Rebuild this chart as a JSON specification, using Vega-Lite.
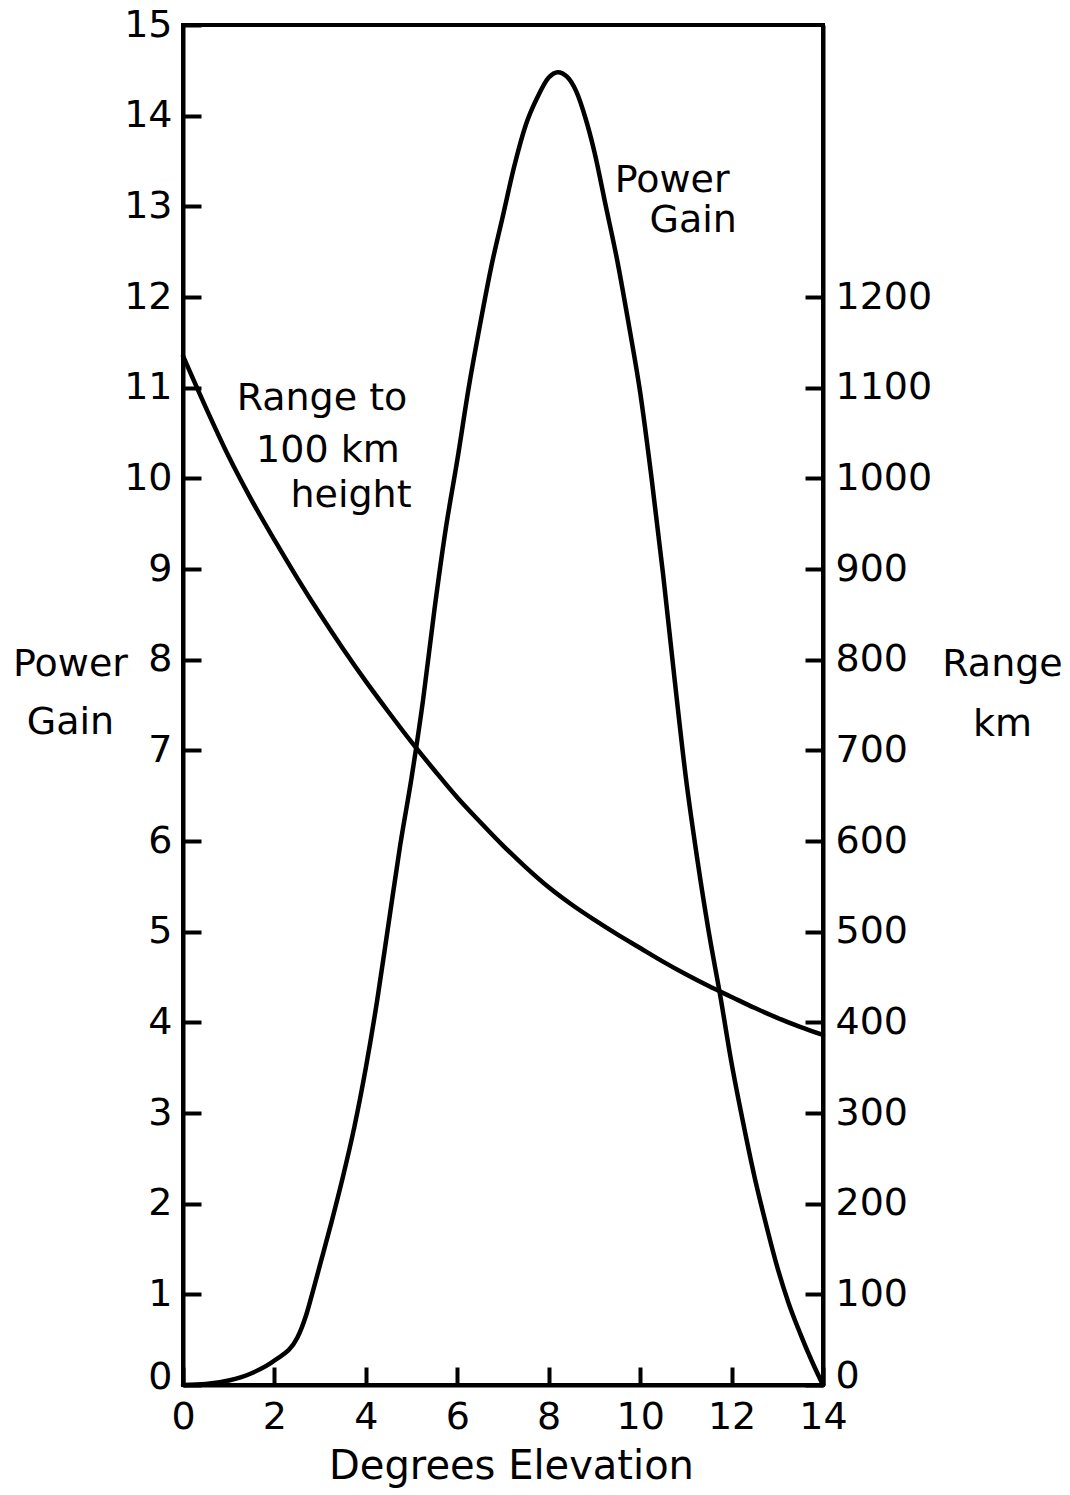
{
  "$schema": "https://vega.github.io/schema/vega-lite/v6.json",
  "width": 640,
  "height": 1360,
  "autosize": "none",
  "padding": {"left": 183, "top": 25, "right": 247, "bottom": 110},
  "background": "white",
  "config": {
    "view": {"stroke": "black", "strokeWidth": 4},
    "font": "DejaVu Sans",
    "axis": {
      "grid": false,
      "domainColor": "black",
      "domainWidth": 4,
      "tickColor": "black",
      "tickWidth": 4,
      "tickSize": -18,
      "labelFont": "DejaVu Sans",
      "labelFontSize": 38,
      "labelColor": "black",
      "labelFlush": false,
      "labelOverlap": false,
      "labelBound": false,
      "titleFont": "DejaVu Sans",
      "titleFontSize": 38,
      "titleFontWeight": "normal",
      "titleColor": "black"
    }
  },
  "datasets": {
    "gain": [
      {"deg": 0, "gain": 0},
      {"deg": 0.5, "gain": 0.01},
      {"deg": 1.0, "gain": 0.05},
      {"deg": 1.5, "gain": 0.13},
      {"deg": 2.0, "gain": 0.27},
      {"deg": 2.5, "gain": 0.52},
      {"deg": 2.7, "gain": 0.78},
      {"deg": 2.85, "gain": 1.05},
      {"deg": 3.0, "gain": 1.33},
      {"deg": 3.25, "gain": 1.8},
      {"deg": 3.5, "gain": 2.3},
      {"deg": 3.75, "gain": 2.85},
      {"deg": 4.0, "gain": 3.5},
      {"deg": 4.25, "gain": 4.25},
      {"deg": 4.5, "gain": 5.1},
      {"deg": 4.75, "gain": 5.95},
      {"deg": 5.0, "gain": 6.7},
      {"deg": 5.25, "gain": 7.55},
      {"deg": 5.5, "gain": 8.55},
      {"deg": 5.75, "gain": 9.45},
      {"deg": 6.0, "gain": 10.2},
      {"deg": 6.25, "gain": 11.0},
      {"deg": 6.5, "gain": 11.7},
      {"deg": 6.75, "gain": 12.35},
      {"deg": 7.0, "gain": 12.9},
      {"deg": 7.25, "gain": 13.45},
      {"deg": 7.5, "gain": 13.9},
      {"deg": 7.75, "gain": 14.2},
      {"deg": 8.0, "gain": 14.42},
      {"deg": 8.2, "gain": 14.48},
      {"deg": 8.4, "gain": 14.43},
      {"deg": 8.6, "gain": 14.27},
      {"deg": 8.8, "gain": 13.98},
      {"deg": 9.0, "gain": 13.6},
      {"deg": 9.25, "gain": 13.0},
      {"deg": 9.5, "gain": 12.4},
      {"deg": 9.75, "gain": 11.7},
      {"deg": 10.0, "gain": 10.95},
      {"deg": 10.25, "gain": 10.0},
      {"deg": 10.5, "gain": 8.95},
      {"deg": 10.75, "gain": 7.8},
      {"deg": 11.0, "gain": 6.7},
      {"deg": 11.25, "gain": 5.8},
      {"deg": 11.5, "gain": 5.0},
      {"deg": 11.75, "gain": 4.3},
      {"deg": 12.0, "gain": 3.55},
      {"deg": 12.25, "gain": 2.9},
      {"deg": 12.5, "gain": 2.3},
      {"deg": 12.75, "gain": 1.78},
      {"deg": 13.0, "gain": 1.3},
      {"deg": 13.25, "gain": 0.9},
      {"deg": 13.5, "gain": 0.57},
      {"deg": 13.75, "gain": 0.27},
      {"deg": 14.0, "gain": 0}
    ],
    "range": [
      {"deg": 0, "km": 1135},
      {"deg": 0.5, "km": 1078},
      {"deg": 1.0, "km": 1024},
      {"deg": 1.5, "km": 976},
      {"deg": 2.0, "km": 932},
      {"deg": 2.5, "km": 890},
      {"deg": 3.0, "km": 850},
      {"deg": 3.5, "km": 812},
      {"deg": 4.0, "km": 776},
      {"deg": 4.5, "km": 742},
      {"deg": 5.0, "km": 709},
      {"deg": 5.5, "km": 678},
      {"deg": 6.0, "km": 648},
      {"deg": 6.5, "km": 621},
      {"deg": 7.0, "km": 595},
      {"deg": 7.5, "km": 571},
      {"deg": 8.0, "km": 549},
      {"deg": 8.5, "km": 530},
      {"deg": 9.0, "km": 513},
      {"deg": 9.5, "km": 497},
      {"deg": 10.0, "km": 482},
      {"deg": 10.5, "km": 467},
      {"deg": 11.0, "km": 453},
      {"deg": 11.5, "km": 440},
      {"deg": 12.0, "km": 428},
      {"deg": 12.5, "km": 416},
      {"deg": 13.0, "km": 405},
      {"deg": 13.5, "km": 395},
      {"deg": 14.0, "km": 386}
    ],
    "notes": [
      {"deg": 10.7, "gain": 13.16, "text": "Power"},
      {"deg": 11.16, "gain": 12.72, "text": "Gain"},
      {"deg": 3.04, "gain": 10.75, "text": "Range to"},
      {"deg": 3.17, "gain": 10.18, "text": "100 km"},
      {"deg": 3.675, "gain": 9.68, "text": "height"}
    ]
  },
  "resolve": {"scale": {"y": "independent"}, "axis": {"y": "independent"}},
  "layer": [
    {
      "data": {"name": "gain"},
      "mark": {"type": "line", "color": "black", "strokeWidth": 4.5, "strokeJoin": "round", "strokeCap": "round", "interpolate": "monotone"},
      "encoding": {
        "x": {
          "field": "deg", "type": "quantitative",
          "scale": {"domain": [0, 14], "nice": false},
          "axis": {
            "values": [0, 2, 4, 6, 8, 10, 12, 14],
            "labelPadding": 31,
            "title": "Degrees Elevation",
            "titleFontSize": 40,
            "titleAlign": "center",
            "titleBaseline": "alphabetic",
            "titleAnchor": null,
            "titleX": 328,
            "titleY": 93
          }
        },
        "y": {
          "field": "gain", "type": "quantitative",
          "scale": {"domain": [0, 15], "nice": false},
          "axis": {
            "orient": "left",
            "values": [0, 1, 2, 3, 4, 5, 6, 7, 8, 9, 10, 11, 12, 13, 14, 15],
            "labelPadding": 29,
            "labelOffset": {"condition": {"test": "datum.value === 0", "value": -8}, "value": 0},
            "title": ["Power", "Gain"],
            "titleAngle": 0,
            "titleAlign": "center",
            "titleBaseline": "alphabetic",
            "titleAnchor": null,
            "titleLineHeight": 58,
            "titleX": -113,
            "titleY": 650
          }
        }
      }
    },
    {
      "data": {"name": "range"},
      "mark": {"type": "line", "color": "black", "strokeWidth": 4.5, "strokeJoin": "round", "strokeCap": "round", "interpolate": "monotone"},
      "encoding": {
        "x": {"field": "deg", "type": "quantitative", "scale": {"domain": [0, 14], "nice": false}},
        "y": {
          "field": "km", "type": "quantitative",
          "scale": {"domain": [0, 1500], "nice": false},
          "axis": {
            "orient": "right",
            "format": "d",
            "values": [0, 100, 200, 300, 400, 500, 600, 700, 800, 900, 1000, 1100, 1200],
            "labelPadding": 30,
            "labelOffset": {"condition": {"test": "datum.value === 0", "value": -9}, "value": 0},
            "title": ["Range", "km"],
            "titleAngle": 0,
            "titleAlign": "center",
            "titleBaseline": "alphabetic",
            "titleAnchor": null,
            "titleLineHeight": 60,
            "titleX": 179,
            "titleY": 650
          }
        }
      }
    },
    {
      "data": {"name": "notes"},
      "mark": {"type": "text", "font": "DejaVu Sans", "fontSize": 38, "color": "black", "align": "center", "baseline": "alphabetic"},
      "encoding": {
        "x": {"field": "deg", "type": "quantitative", "scale": {"domain": [0, 14], "nice": false}},
        "y": {"field": "gain", "type": "quantitative", "scale": {"domain": [0, 15], "nice": false}, "axis": null},
        "text": {"field": "text"}
      }
    }
  ]
}
